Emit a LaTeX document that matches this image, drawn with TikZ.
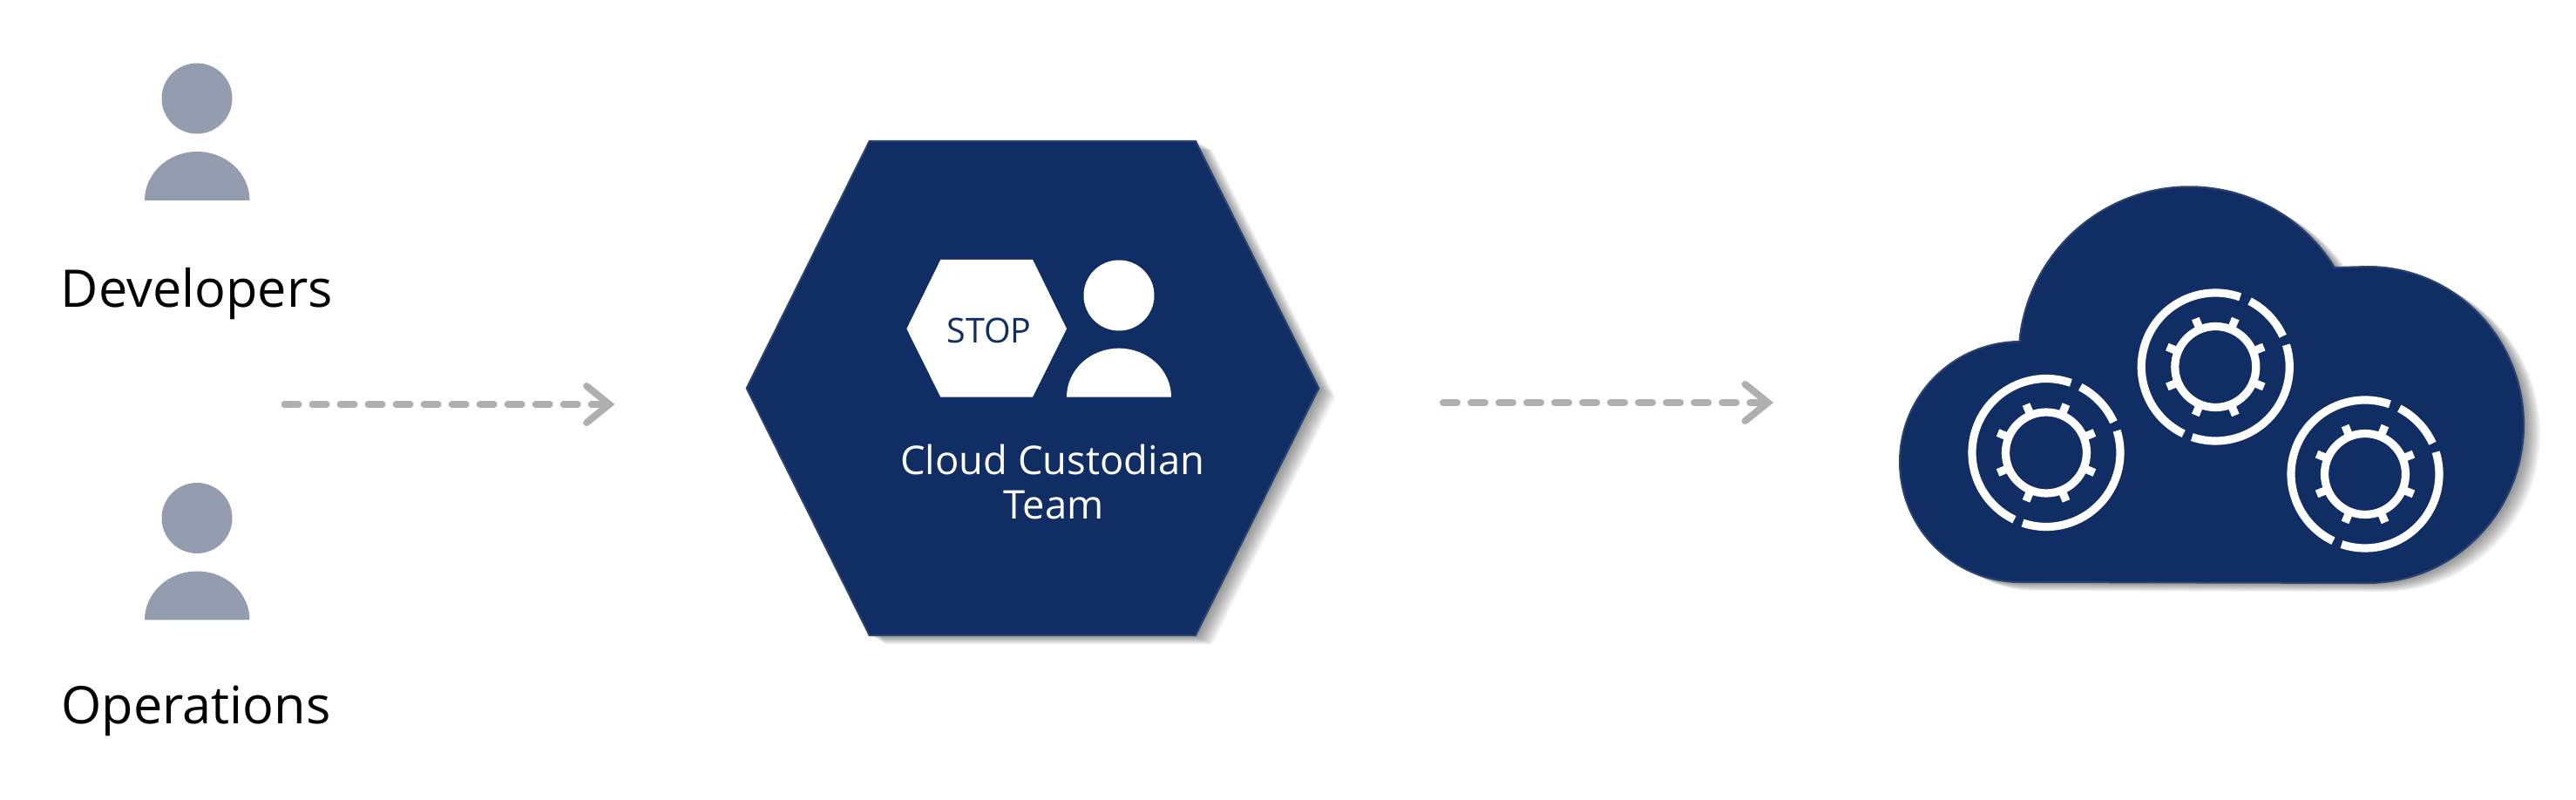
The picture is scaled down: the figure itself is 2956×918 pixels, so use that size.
\documentclass[tikz,border=0pt]{standalone}
\usepackage{fontspec}
\setmainfont{Open Sans}
\usetikzlibrary{arrows.meta}
\definecolor{navy}{HTML}{112E64}
\definecolor{navyedge}{HTML}{2C4370}
\definecolor{usergray}{HTML}{949DAF}
\definecolor{flowgray}{HTML}{AFAFAF}
\tikzset{
  bigtext/.style={text=black,anchor=base,inner sep=0pt,font=\fontsize{16.9}{20}\selectfont},
  teamtext/.style={text=white,anchor=base,inner sep=0pt,font=\fontsize{12.9}{16}\selectfont},
  stoptext/.style={text=navy,anchor=base,inner sep=0pt,font=\fontsize{11.2}{13}\selectfont},
  flow/.style={flowgray,line width=.08cm,line cap=round,dash pattern=on .16cm off .16cm,
    -{Straight Barb[length=.26cm,width=.42cm,line cap=round,line join=miter]}},
  softedge/.style={fill=black,opacity=.042},
  solidshape/.style={fill=navy,draw=navyedge,line width=.02cm}
}
\newcommand\hexpath{(856.7,472.5)--(997.7,756.2)--(1371.9,756.2)--(1513.3,472.5)--(1371.9,188.8)--(997.7,188.8)--cycle}
\newcommand\cloudpath{(2318,526) arc (90:270:138)--(2717,249) arc (-90:90:179 and 181.5)
  --(2679,611) arc (31.8:174:196)--cycle}
\begin{document}
\begin{tikzpicture}[x=.01cm,y=.01cm]
    \useasboundingbox (0,0) rectangle (2956,918);

    % people on the left
    \foreach \y in {0,-481.5}{
      \begin{scope}[yshift=\y*.01cm]
        \fill[usergray] (226,805) circle(40.5);
        \fill[usergray] (166,688) arc (180:0:60.25 and 56)--cycle;
      \end{scope}
    }
    \node[bigtext] (developers) at (225.8,565) {Developers};
    \node[bigtext] (operations) at (225,87) {Operations};

    \coordinate (teamin) at (326.5,454);
    \coordinate (teamtip) at (705.5,454);
    \draw[flow] (teamin)--(teamtip);

    % hexagon
    \foreach \k in {1,...,12}{
      \path[softedge,shift={(\k*1.6,-\k*.85)}] \hexpath;
    }
    \path[solidshape] \hexpath;
    \fill[white] (1040.4,540.7)--(1079.4,620.2)--(1185,620.2)--(1224,540.7)--(1185,462.3)--(1079.4,462.3)--cycle;
    \node[stoptext] (stop) at (1135,524.7) {STOP};
    \fill[white] (1284,579) circle(40.5);
    \fill[white] (1224,462.3) arc (180:0:60 and 56)--cycle;
    \node[teamtext] (custodian) at (1207.7,373.7) {Cloud Custodian};
    \node[teamtext] (team) at (1209,322.3) {Team};

    \coordinate (cloudin) at (1656,456);
    \coordinate (cloudtip) at (2035,456);
    \draw[flow] (cloudin)--(cloudtip);

    % cloud with gears
    \foreach \k in {1,...,12}{
      \path[softedge,shift={(\k*1.6,-\k*.85)}] \cloudpath;
    }
    \path[solidshape] \cloudpath;
    \foreach \cx/\cy in {2348/398.5,2542.3/497,2714/374}{
      \begin{scope}[shift={(\cx,\cy)},white,line width=.092cm]
        \draw (0,0) circle(46.5);
        \foreach \a in {22.5,67.5,...,337.5}{
          \draw (\a:46)--(\a:60);
        }
        \draw (70.5:85) arc (70.5:244.5:85);
        \draw (251.5:85) arc (251.5:377.3:85);
        \draw (24.5:85) arc (24.5:62.5:85);
      \end{scope}
    }
\end{tikzpicture}
\end{document}
